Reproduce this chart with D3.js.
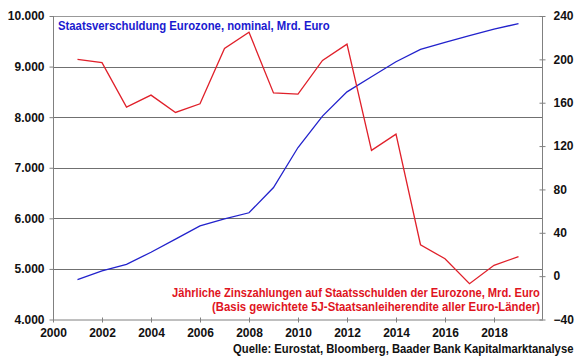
<!DOCTYPE html>
<html><head><meta charset="utf-8">
<script src="https://cdn.jsdelivr.net/npm/d3@7"></script>
<style>
body{margin:0;background:#fff;}
text{font-family:"Liberation Sans",Arial,sans-serif;font-weight:bold;}
</style></head>
<body><svg id="c" width="580" height="359"></svg>
<script>
const years = [2001,2002,2003,2004,2005,2006,2007,2008,2009,2010,2011,2012,2013,2014,2015,2016,2017,2018,2019];
const debt = [4790,4960,5090,5330,5590,5850,5990,6110,6610,7400,8020,8500,8800,9095,9340,9480,9610,9740,9850];
const interest = [200,197,156,167,151,159,210,225,169,168,199,214,116,131,29,16,-7,10,18];
const xTicks = [2000,2002,2004,2006,2008,2010,2012,2014,2016,2018];
const leftTicks = [4000,5000,6000,7000,8000,9000,10000];
const rightTicks = [-40,0,40,80,120,160,200,240];
const debtLabel = "Staatsverschuldung Eurozone, nominal, Mrd. Euro";
const intLabel1 = "Jährliche Zinszahlungen auf Staatsschulden der Eurozone, Mrd. Euro";
const intLabel2 = "(Basis gewichtete 5J-Staatsanleiherendite aller Euro-Länder)";
const source = "Quelle: Eurostat, Bloomberg, Baader Bank Kapitalmarktanalyse";

const svg = d3.select("#c");
const L=53, R=543, T=16, B=319.5;
const x = d3.scaleLinear().domain([2000,2020]).range([L,R]);
const yL = d3.scaleLinear().domain([4000,10000]).range([B,T]);
const yR = d3.scaleLinear().domain([-40,240]).range([B,T]);
const fmt = d => d3.format(",")(d).replace(/,/g,".");

// gridlines
svg.append("g").selectAll("line").data(leftTicks.filter(d=>d>4000)).join("line")
  .attr("x1",L).attr("x2",R).attr("y1",d=>Math.round(yL(d))+0.5).attr("y2",d=>Math.round(yL(d))+0.5)
  .attr("stroke",d=>d===10000?"#999":"#707070").attr("stroke-width",1);

// left axis
const gl = svg.append("g").attr("transform",`translate(${L+0.5},0)`)
  .call(d3.axisLeft(yL).tickValues(leftTicks).tickFormat(fmt).tickSize(4).tickPadding(5));
// right axis
const gr = svg.append("g").attr("transform",`translate(${R-0.5},0)`)
  .call(d3.axisRight(yR).tickValues(rightTicks).tickSize(3).tickPadding(8));
gr.selectAll(".tick line").attr("x1",-3);
// bottom axis
const gb = svg.append("g").attr("transform",`translate(0,${B})`)
  .call(d3.axisBottom(x).tickValues(xTicks).tickFormat(d3.format("d")).tickSize(3).tickPadding(6));
gb.selectAll(".tick line").attr("y1",-2);
[gl,gr,gb].forEach(g=>{
  g.select(".domain").attr("stroke","#808080");
  g.selectAll(".tick line").attr("stroke","#808080");
  g.selectAll(".tick text").attr("fill","#111").style("font-size","12px").style("font-family","'Liberation Sans',Arial,sans-serif").style("font-weight","bold");
});
gb.select(".domain").attr("d",`M${L},0.5H${R}`);
gl.select(".domain").attr("d",`M0,${T}V${B}`);
gr.select(".domain").attr("d",`M0,${T}V${B}`);

// lines
svg.append("path").datum(years.map((y,i)=>[y,debt[i]]))
  .attr("fill","none").attr("stroke","#2222cc").attr("stroke-width",1.3)
  .attr("d",d3.line().x(d=>x(d[0])).y(d=>yL(d[1])));
svg.append("path").datum(years.map((y,i)=>[y,interest[i]]))
  .attr("fill","none").attr("stroke","#e0202a").attr("stroke-width",1.3)
  .attr("d",d3.line().x(d=>x(d[0])).y(d=>yR(d[1])));

// labels, horizontally condensed to fit the reference widths
function label(str, xPos, yPos, width, anchor, color){
  const t = svg.append("text").attr("fill",color).style("font-size","12px").text(str);
  const len = t.node().getComputedTextLength();
  const s = width/len;
  const x0 = anchor==="end" ? xPos - width : xPos;
  t.attr("transform",`translate(${x0},${yPos}) scale(${s},1)`);
}
label(debtLabel, 58, 30, 272, "start", "#1a1ad0");
label(intLabel1, 540, 297, 368, "end", "#e0141e");
label(intLabel2, 540, 311, 328, "end", "#e0141e");
label(source, 574, 353, 341, "end", "#111");
</script></body></html>
